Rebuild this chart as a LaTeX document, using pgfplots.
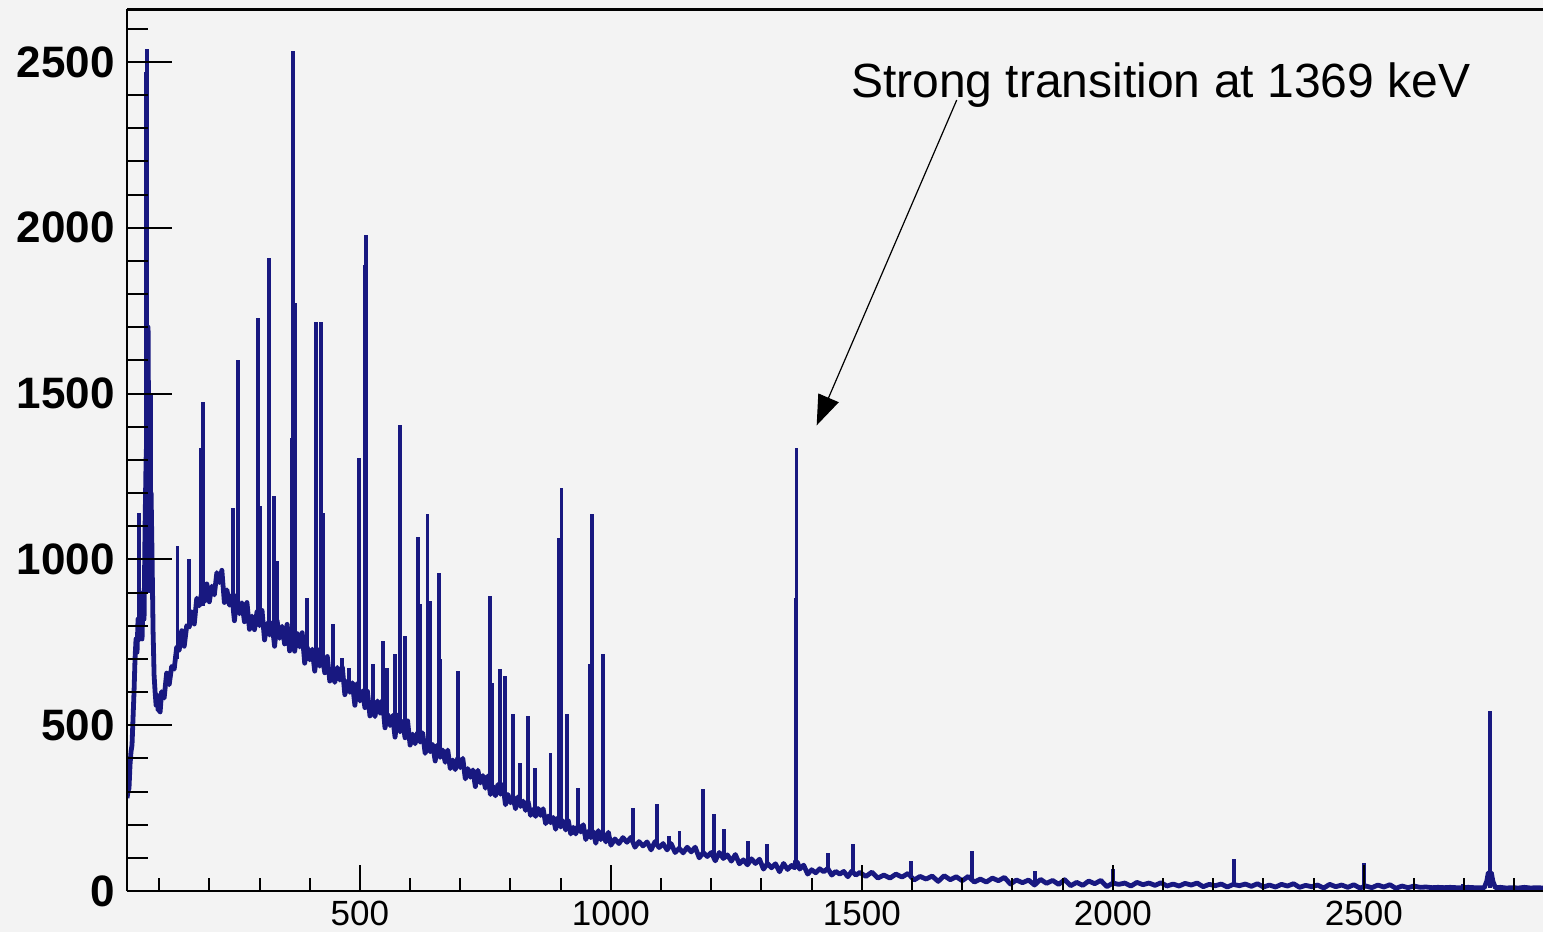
\documentclass[border=0pt]{standalone}
\usepackage{fontspec}
\setmainfont{Liberation Sans}
\usepackage{pgfplots}
\pgfplotsset{compat=1.18}
\usetikzlibrary{arrows.meta}
\definecolor{bgc}{RGB}{243,243,243}
\definecolor{histc}{RGB}{24,24,128}
\begin{document}
\begin{tikzpicture}
\fill[bgc] (-63.5bp,-20.5bp) rectangle (708bp,445.5bp);
\begin{axis}[
  at={(0,0)}, anchor=south west,
  scale only axis, width=708bp, height=440.75bp,
  xmin=36, xmax=2857, ymin=0, ymax=2658,
  axis y line*=left,
  axis x line*=box,
  axis line style={line width=1.2bp, black},
  axis on top,
  tick align=inside,
  xtick={500,1000,1500,2000,2500},
  minor xtick={100,200,...,2800},
  ytick={0,500,1000,1500,2000,2500},
  minor ytick={100,200,...,2600},
  xtick pos=bottom, ytick pos=left,
  xtick style={line width=1bp, black, /pgfplots/major tick length=13bp, /pgfplots/minor tick length=6.5bp},
  ytick style={line width=1bp, black, /pgfplots/major tick length=22.5bp, /pgfplots/minor tick length=10.5bp},
  /pgf/number format/assume math mode=true,
  /pgf/number format/1000 sep={},
  xticklabel style={font=\fontsize{17.5bp}{19bp}\selectfont, inner sep=0pt, yshift=-5bp},
  yticklabel style={font=\fontsize{22bp}{24bp}\selectfont\bfseries, inner sep=0pt, xshift=-6bp},
  unbounded coords=jump,
]
% continuum
\addplot[histc, line width=2.4bp, line join=round] coordinates {
(36,280)(38,300)(40,310)(42,380)(44,420)(46,440)(48,520)(50,600)(52,700)(54,760)(56,720)(58,820)(60,780)(62,760)(64,880)(66,760)(68,900)(70,820)(72,1100)(74,1300)(76,1400)(78,1700)(80,1100)(82,1000)(84,1200)(86,1000)(88,780)(90,650)(92,600)(94,560)(96,590)(98,545)(100,555)(102,540)
(105,601)(110,582)(115,657)(120,622)(125,677)(130,669)(135,735)(140,726)(145,785)(150,738)(155,800)(160,796)(165,842)(170,805)(175,883)(180,860)(185,901)(190,872)(195,926)(200,872)
(205,919)(210,893)(215,960)(220,930)(225,967)(230,870)(235,908)(240,862)(245,892)(250,815)(255,891)(260,836)(265,869)(270,812)(275,870)(280,789)(285,829)(290,788)(295,842)(300,800)
(305,846)(310,757)(315,807)(320,772)(325,808)(330,738)(335,815)(340,762)(345,798)(350,745)(355,804)(360,724)(365,764)(370,723)(375,776)(380,736)(385,779)(390,687)(395,735)(400,697)
(405,729)(410,663)(415,728)(420,678)(425,708)(430,658)(435,707)(440,633)(445,667)(450,629)(455,674)(460,636)(465,674)(470,592)(475,633)(480,599)(485,628)(490,560)(495,625)(500,573)
(505,603)(510,553)(515,602)(520,528)(525,563)(530,526)(535,573)(540,536)(545,574)(550,492)(555,533)(560,499)(565,529)(570,464)(575,530)(580,480)(585,511)(590,462)(595,513)(600,440)
(605,473)(610,444)(615,478)(620,449)(625,477)(630,415)(635,446)(640,420)(645,442)(650,392)(655,441)(660,403)(665,425)(670,388)(675,425)(680,369)(685,395)(690,366)(695,401)(700,372)
(705,400)(710,338)(715,369)(720,343)(725,365)(730,315)(735,364)(740,326)(745,348)(750,310)(755,347)(760,291)(765,316)(770,287)(775,321)(780,292)(785,321)(790,260)(795,291)(800,266)
(805,285)(810,248)(815,284)(820,255)(825,271)(830,243)(835,270)(840,228)(845,246)(850,225)(855,249)(860,228)(865,248)(870,203)(875,226)(880,206)(885,222)(890,186)(895,222)(900,193)
(905,211)(910,184)(915,213)(920,172)(925,192)(930,172)(935,198)(940,178)(945,200)(950,155)(955,180)(960,161)(965,179)(970,144)(975,182)(980,155)(985,173)(990,148)(995,177)(1000,138)
(1008,157)(1016,143)(1024,161)(1032,147)(1040,162)(1048,132)(1056,149)(1064,136)(1072,148)(1080,124)(1088,149)(1096,131)(1104,143)(1112,124)(1120,143)(1128,116)(1136,129)(1144,115)(1152,132)(1160,118)
(1168,132)(1176,100)(1184,116)(1192,104)(1200,116)(1208,91)(1216,116)(1224,98)(1232,109)(1240,90)(1248,110)(1256,82)(1264,94)(1272,79)(1280,97)(1288,83)(1296,96)(1304,66)(1312,83)(1320,70)
(1328,82)(1336,58)(1344,83)(1352,65)(1360,77)(1366,70)(1368,90)(1372,85)(1376,66)(1384,78)(1392,51)(1400,64)(1408,55)(1416,67)(1424,58)(1432,68)(1440,48)(1448,59)(1456,51)(1464,59)(1472,43)(1480,60)(1488,48)(1496,56)
(1508,44)(1520,57)(1532,39)(1544,48)(1556,39)(1568,51)(1580,42)(1592,53)(1604,33)(1616,44)(1628,36)(1640,45)(1652,29)(1664,46)(1676,34)(1688,43)(1700,31)(1712,44)(1724,27)(1736,36)
(1748,27)(1760,39)(1772,31)(1784,41)(1796,21)(1808,33)(1820,25)(1832,33)(1844,18)(1856,35)(1868,23)(1880,32)(1892,20)(1904,34)(1916,16)(1928,26)(1940,17)(1952,30)(1964,22)(1976,32)(1988,13)
(2000,24)(2012,20)(2024,24)(2036,15)(2048,26)(2060,19)(2072,24)(2084,17)(2096,25)(2108,15)(2120,21)(2132,15)(2144,23)(2156,18)(2168,24)(2180,13)(2192,20)(2204,16)(2216,21)(2228,12)(2240,20)
(2252,16)(2264,21)(2276,14)(2288,22)(2300,12)(2312,18)(2324,12)(2336,20)(2348,15)(2360,22)(2372,11)(2384,17)(2396,13)(2408,18)(2420,9)(2432,20)(2444,13)(2456,18)(2468,11)(2480,19)(2492,9)
(2504,15)(2516,10)(2528,18)(2540,12)(2552,19)(2564,8)(2576,15)(2588,10)(2600,15)(2612,11)(2624,12)(2636,10)(2648,11)(2660,10)(2672,11)(2684,10)(2696,10)(2708,11)(2720,10)(2732,10)
(2740,10)(2745,30)(2748,55)(2754,55)(2757,30)(2762,10)(2772,11)(2784,9)(2796,10)(2808,9)(2820,11)(2832,9)(2844,10)(2857,9)
};
% peaks
\addplot[histc, line width=1.8bp] coordinates {
(60,760)(60,1141)(60,nan)
(74,900)(74,2470)(74,nan)
(76,900)(76,2540)(76,nan)
(79,900)(79,1500)(79,nan)
(81,900)(81,1480)(81,nan)
(83,900)(83,1500)(83,nan)
(85,900)(85,1503)(85,nan)
(137,700)(137,1041)(137,nan)
(159,800)(159,1002)(159,nan)
(183,860)(183,1337)(183,nan)
(187,860)(187,1473)(187,nan)
(247,870)(247,1156)(247,nan)
(257,850)(257,1600)(257,nan)
(297,805)(297,1727)(297,nan)
(301,800)(301,1160)(301,nan)
(319,790)(319,1908)(319,nan)
(329,780)(329,1192)(329,nan)
(335,780)(335,996)(335,nan)
(365,755)(365,1367)(365,nan)
(367,755)(367,2532)(367,nan)
(371,750)(371,1772)(371,nan)
(394,720)(394,884)(394,nan)
(412,700)(412,1715)(412,nan)
(422,690)(422,1715)(422,nan)
(426,685)(426,1141)(426,nan)
(446,660)(446,806)(446,nan)
(464,635)(464,703)(464,nan)
(478,618)(478,673)(478,nan)
(498,590)(498,1307)(498,nan)
(510,573)(510,1887)(510,nan)
(512,570)(512,1977)(512,nan)
(526,555)(526,685)(526,nan)
(546,535)(546,755)(546,nan)
(554,525)(554,673)(554,nan)
(570,504)(570,715)(570,nan)
(580,492)(580,1404)(580,nan)
(590,482)(590,770)(590,nan)
(616,456)(616,1066)(616,nan)
(620,452)(620,866)(620,nan)
(635,437)(635,1138)(635,nan)
(641,432)(641,875)(641,nan)
(657,415)(657,960)(657,nan)
(659,413)(659,700)(659,nan)
(695,380)(695,664)(695,nan)
(759,316)(759,890)(759,nan)
(763,312)(763,628)(763,nan)
(779,296)(779,670)(779,nan)
(789,288)(789,649)(789,nan)
(805,274)(805,534)(805,nan)
(819,263)(819,386)(819,nan)
(835,250)(835,528)(835,nan)
(849,240)(849,371)(849,nan)
(880,215)(880,417)(880,nan)
(896,203)(896,1063)(896,nan)
(902,199)(902,1216)(902,nan)
(912,194)(912,534)(912,nan)
(934,183)(934,311)(934,nan)
(958,171)(958,685)(958,nan)
(962,169)(962,1138)(962,nan)
(984,160)(984,715)(984,nan)
(1044,147)(1044,250)(1044,nan)
(1092,137)(1092,263)(1092,nan)
(1116,130)(1116,166)(1116,nan)
(1137,126)(1137,181)(1137,nan)
(1183,112)(1183,308)(1183,nan)
(1205,106)(1205,232)(1205,nan)
(1225,102)(1225,187)(1225,nan)
(1273,88)(1273,151)(1273,nan)
(1311,78)(1311,142)(1311,nan)
(1368,67)(1368,884)(1368,nan)
(1370,67)(1370,1337)(1370,nan)
(1432,58)(1432,115)(1432,nan)
(1482,52)(1482,142)(1482,nan)
(1598,43)(1598,91)(1598,nan)
(1719,35)(1719,121)(1719,nan)
(1845,28)(1845,60)(1845,nan)
(2000,22)(2000,66)(2000,nan)
(2241,18)(2241,97)(2241,nan)
(2500,14)(2500,85)(2500,nan)
(2697,10)(2697,21)(2697,nan)
(2751,10)(2751,543)(2751,nan)
(2797,10)(2797,15)
};
\node[anchor=base west, font=\fontsize{24bp}{28bp}\selectfont, inner sep=0pt] at (axis cs:1478,2394) {Strong transition at 1369 keV};
\draw[line width=0.6bp, -{Triangle[length=15bp,width=11bp]}] (axis cs:1689,2385) -- (axis cs:1410,1404);
\end{axis}
\pgfresetboundingbox
\useasboundingbox (-63.5bp,-20.5bp) rectangle (708bp,445.5bp);
\end{tikzpicture}
\end{document}
